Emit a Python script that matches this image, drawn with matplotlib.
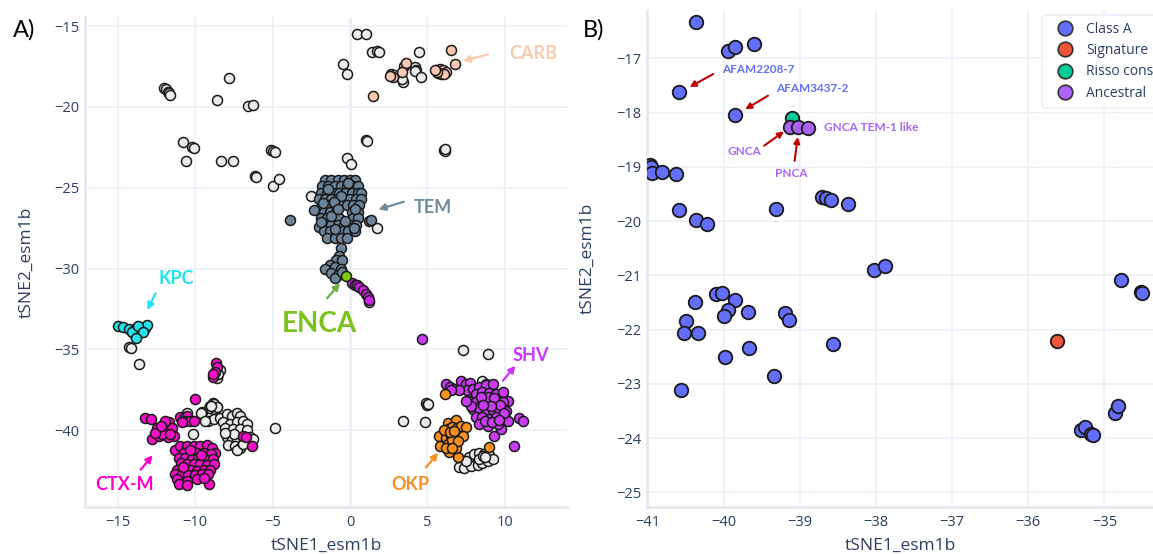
import numpy as np
import matplotlib
matplotlib.use("Agg")
import matplotlib.pyplot as plt
from matplotlib.lines import Line2D

# ---- panel A data (tSNE of esm1b embeddings) ----
other_xy = [
    (-12.04, -18.81), (-11.9, -18.92), (-11.78, -19.05), (-11.7, -19.12), (-11.61, -19.26),
    (-7.79, -18.24), (-8.61, -19.57), (-6.57, -19.94), (-6.29, -19.88),
    (-10.79, -22.19), (-10.21, -22.46), (-10.11, -22.54), (-10.62, -23.36), (-8.35, -23.34), (-7.58, -23.34),
    (-5.13, -22.66), (-4.96, -22.75), (-4.85, -22.77), (-6.14, -24.30), (-6.05, -24.34), (-5.0, -24.92), (-4.61, -24.49),
    (0.47, -15.51), (1.03, -15.47), (1.39, -16.62), (1.72, -16.56), (1.89, -16.58), (4.44, -16.62),
    (-0.43, -17.33), (-0.17, -17.94), (4.18, -17.53), (4.29, -17.73), (4.18, -17.77), (4.57, -18.18),
    (3.43, -18.44), (3.35, -18.3),
    (1.03, -22.06), (1.08, -22.12), (6.1, -22.67), (6.17, -22.72), (6.13, -22.6),
    (-0.22, -23.17), (0.04, -23.52), (-2.54, -25.52), (1.72, -27.48), (1.25, -32.06),
    (-14.29, -34.88), (-14.14, -34.92), (-13.6, -35.93),
    (-8.43, -36.29), (-8.61, -36.75), (-8.55, -36.55),
    (-9.03, -38.48), (-8.82, -38.33), (-8.61, -38.54), (-8.86, -38.69), (-9.14, -38.63),
    (-8.8, -38.35), (-8.6, -38.55), (-9.0, -38.5), (-9.55, -38.9), (-9.15, -39.4), (-8.8, -39.3),
    (-8.4, -39.25), (-7.95, -39.0), (-7.65, -39.15), (-7.3, -38.95), (-7.1, -39.1), (-8.2, -39.5),
    (-7.75, -39.6), (-7.3, -39.5), (-6.9, -39.4), (-6.65, -39.6), (-8.05, -39.85), (-7.55, -39.95),
    (-7.1, -39.9), (-6.65, -40.0), (-7.95, -40.45), (-7.65, -40.6), (-7.3, -40.55), (-6.9, -40.45),
    (-6.45, -40.45), (-7.85, -40.9), (-7.4, -41.0), (-7.1, -41.1), (-7.3, -41.25), (-6.65, -40.7),
    (-6.25, -40.55), (-7.5, -40.25), (-8.1, -40.2), (-6.9, -40.85),
    (-10.54, -38.96), (-10.15, -40.25), (-9.64, -38.96), (-9.36, -39.42), (-4.85, -39.85),
    (7.31, -35.04), (8.93, -35.31), (4.94, -38.33), (5.0, -38.42), (5.05, -38.38), (3.44, -39.42), (4.85, -39.52),
    (8.56, -36.96), (8.78, -37.13),
    (7.70, -41.67), (8.02, -41.5), (8.35, -41.4), (8.67, -41.5), (9.0, -41.54), (7.05, -42.29), (7.38, -42.33),
    (7.81, -42.23), (8.24, -42.13), (8.56, -42.02), (8.89, -41.92), (9.21, -41.81), (8.35, -41.75), (7.48, -41.92),
    (8.6, -41.6), (8.75, -41.65),
]

carb_xy = [
    (6.50, -16.48), (6.76, -17.37), (1.46, -19.35),
    (2.68, -17.94), (2.85, -18.04), (3.48, -17.49), (3.61, -17.29), (3.39, -17.83), (2.79, -18.14), (2.58, -18.10),
    (5.58, -17.69), (5.79, -17.63), (6.01, -17.73), (5.69, -17.89), (5.90, -17.94), (6.22, -17.83),
    (6.05, -17.98), (5.62, -17.83), (5.47, -17.73),
]

tem_xy = [
    (-1.6, -24.5), (-1.2, -24.5), (-0.8, -24.5), (-0.4, -24.5), (0.0, -24.5), (0.3, -24.5),
    (-1.8, -24.9), (-1.4, -24.9), (-1.0, -24.9), (-0.6, -24.9), (-0.2, -24.9), (0.2, -24.9), (0.5, -24.9),
    (-1.9, -25.3), (-1.5, -25.3), (-1.1, -25.3), (-0.7, -25.3), (-0.3, -25.3), (0.1, -25.3), (0.5, -25.3), (0.7, -25.3),
    (-2.0, -25.7), (-1.6, -25.7), (-1.2, -25.7), (-0.8, -25.7), (-0.4, -25.7), (0.0, -25.7), (0.4, -25.7), (0.7, -25.7),
    (-1.8, -26.1), (-1.4, -26.1), (-1.0, -26.1), (-0.6, -26.1), (-0.2, -26.1), (0.2, -26.1), (0.6, -26.1),
    (-2.3, -26.4), (-1.7, -26.5), (-1.3, -26.5), (-0.9, -26.5), (0.1, -26.5), (0.5, -26.5),
    (-1.9, -26.9), (-1.5, -26.9), (-1.1, -26.9), (-0.7, -26.9), (0.2, -26.9), (0.5, -26.9),
    (-2.0, -27.4), (-1.6, -27.3), (-1.2, -27.3), (-0.8, -27.3), (-0.4, -27.3), (0.0, -27.3), (0.4, -27.3),
    (-1.7, -27.7), (-1.3, -27.7), (-0.9, -27.7), (-0.5, -27.7), (-0.1, -27.7), (0.3, -27.7),
    (-1.5, -28.1), (-1.0, -28.1), (-0.6, -28.1), (-0.2, -28.1),
    (-1.45, -25.1), (-0.55, -25.5), (-1.05, -25.9), (0.35, -26.3), (-1.25, -26.75), (-0.35, -27.05),
    (-1.75, -25.95), (-0.15, -24.7), (-0.95, -27.55), (0.25, -27.5), (-1.85, -27.1), (-0.75, -26.3),
    (-0.6, -28.7), (-0.7, -29.2), (-0.9, -29.5), (-0.5, -29.5), (-1.3, -29.8), (-1.0, -29.9),
    (-0.6, -30.0), (-1.6, -30.0), (-1.2, -30.3), (-0.8, -30.4), (-1.0, -30.6), (-0.5, -30.2),
    (-3.87, -26.98), (1.25, -27.06), (1.35, -27.0),
]

enca_xy = [(-0.26, -30.46)]

chain_xy = [
    (0.11, -30.87), (0.32, -31.02), (0.45, -31.0), (0.60, -31.15), (0.86, -31.35),
    (1.03, -31.56), (1.18, -31.77), (1.25, -31.95),
]

kpc_xy = [
    (-15.0, -33.54), (-14.68, -33.60), (-14.29, -33.75), (-14.03, -33.87), (-13.81, -33.70),
    (-13.49, -33.81), (-13.27, -33.66), (-13.12, -33.50), (-13.64, -34.01), (-13.92, -34.11),
    (-14.07, -33.91), (-13.70, -33.54), (-13.38, -33.95), (-13.85, -34.28),
]

ctxm_xy = [
    (-8.65, -35.83), (-8.56, -36.08), (-8.71, -36.40), (-8.82, -36.71), (-8.86, -36.54),
    (-10.0, -38.06), (-13.22, -39.25), (-12.85, -39.31),
    (-12.79, -40.56), (-12.36, -40.35), (-12.47, -39.88), (-12.15, -40.0), (-11.93, -39.73),
    (-11.72, -39.52), (-11.83, -40.04), (-11.50, -39.88), (-11.35, -40.35), (-11.78, -40.42),
    (-12.15, -40.25), (-12.58, -40.15), (-11.61, -40.21), (-11.98, -39.46), (-12.24, -39.77),
    (-10.97, -39.17), (-10.71, -39.25), (-10.54, -39.10), (-10.64, -39.42), (-10.32, -39.42),
    (-10.11, -39.46), (-10.86, -39.52),
    (-11.3, -41.2), (-11.0, -41.0), (-10.5, -41.0), (-10.1, -41.0), (-9.7, -41.0), (-9.25, -40.9),
    (-8.9, -41.1), (-8.7, -41.4), (-10.75, -41.4), (-10.3, -41.4), (-9.9, -41.4), (-9.45, -41.4),
    (-9.0, -41.5), (-11.05, -41.7), (-10.65, -41.7), (-10.2, -41.75), (-9.8, -41.7), (-9.35, -41.8),
    (-8.85, -41.8), (-10.95, -42.0), (-10.55, -42.1), (-10.1, -42.1), (-9.7, -42.1), (-9.25, -42.15),
    (-8.8, -42.1), (-11.2, -42.45), (-10.75, -42.45), (-10.3, -42.45), (-9.9, -42.5), (-9.45, -42.45),
    (-9.05, -42.45), (-11.3, -42.7), (-10.85, -42.7), (-10.45, -42.8), (-10.0, -42.75), (-9.55, -42.7),
    (-9.15, -42.7), (-11.2, -43.0), (-10.55, -43.15), (-9.9, -43.0), (-11.05, -43.3), (-10.5, -43.4),
    (-9.1, -43.35), (-10.35, -41.2), (-9.6, -41.55), (-10.8, -42.25), (-9.45, -42.95),
    (-6.9, -40.35), (-6.7, -40.45), (-6.35, -41.0),
]

shv_xy = [
    (4.63, -34.35),
    (6.19, -37.13), (6.45, -37.33), (6.73, -37.44), (7.16, -36.98), (7.48, -37.13), (7.74, -37.08),
    (7.59, -37.54), (7.05, -37.54), (6.51, -37.54),
    (7.92, -37.44), (8.35, -37.33), (8.78, -37.23), (9.21, -37.13), (8.13, -37.75), (8.56, -37.65),
    (9.0, -37.71), (9.43, -37.79), (9.86, -37.65), (10.18, -38.17), (7.70, -38.17), (8.13, -38.27),
    (8.56, -38.17), (9.0, -38.27), (9.43, -38.17), (9.86, -38.27), (7.92, -38.69), (8.35, -38.63),
    (8.78, -38.79), (9.21, -38.75), (9.64, -38.69), (10.08, -38.79), (8.13, -39.21), (8.56, -39.17),
    (9.0, -39.31), (9.43, -39.21), (9.86, -39.21), (8.35, -39.63), (8.89, -39.73), (9.32, -40.35),
    (9.75, -39.94), (9.54, -39.63), (10.18, -39.42), (7.81, -38.48), (7.48, -38.17),
    (8.9, -37.95), (9.3, -38.0), (8.45, -37.95), (9.7, -38.45), (9.1, -38.5), (8.6, -38.45),
    (9.95, -38.95), (8.7, -39.45), (9.2, -39.5), (9.6, -39.35),
    (10.90, -39.27), (11.16, -39.42), (10.57, -40.98),
]

okp_xy = [
    (6.14, -37.75),
    (6.30, -39.56), (6.84, -39.38), (6.36, -39.94), (6.62, -39.79), (6.94, -39.88), (7.16, -39.73),
    (7.48, -39.79), (5.76, -40.35), (5.80, -40.98), (6.19, -40.46), (6.51, -40.35), (6.84, -40.35),
    (7.27, -40.35), (6.30, -40.83), (6.73, -40.83), (6.40, -41.33), (7.01, -41.67), (6.84, -41.13),
    (9.0, -41.04), (6.08, -40.0), (6.51, -40.15),
    (6.6, -40.6), (6.95, -40.65), (6.45, -40.1), (6.75, -40.05), (6.2, -41.1), (6.6, -41.1),
]

# ---- panel B data (zoom on the ancestral region) ----
classA_xy = [
    (-40.37, -16.34), (-39.95, -16.86), (-39.86, -16.79), (-39.61, -16.74), (-40.59, -17.63), (-39.85, -18.04),
    (-40.97, -18.97), (-40.96, -19.0), (-40.94, -19.12), (-40.81, -19.10), (-40.63, -19.13),
    (-40.59, -19.79), (-40.37, -19.98), (-40.22, -20.05), (-39.31, -19.78),
    (-38.71, -19.55), (-38.66, -19.58), (-38.59, -19.61), (-38.37, -19.68),
    (-38.03, -20.91), (-37.88, -20.82),
    (-34.78, -21.09), (-34.52, -21.30), (-34.50, -21.32),
    (-40.10, -21.34), (-40.03, -21.32), (-40.38, -21.49), (-39.86, -21.46), (-39.95, -21.63), (-40.00, -21.75),
    (-39.68, -21.67), (-40.50, -21.85), (-40.52, -22.06), (-40.34, -22.06), (-39.20, -21.69), (-39.14, -21.83),
    (-39.99, -22.50), (-39.67, -22.34), (-38.57, -22.26), (-39.34, -22.86), (-40.56, -23.12),
    (-34.86, -23.53), (-34.82, -23.41), (-35.31, -23.85), (-35.25, -23.80), (-35.17, -23.92), (-35.15, -23.94),
]
signature_xy = [(-35.62, -22.21)]
risso_xy = [(-39.11, -18.10)]
ancestral_xy = [(-39.13, -18.26), (-39.03, -18.26), (-38.90, -18.29)]

legend_labels = ["Class A", "Signature", "Risso cons", "Ancestral"]
legend_colors = ["#636EFA", "#EF553B", "#00CC96", "#AB63FA"]

GRID = "#EBF0F8"
FONT = "#2a3f5f"
plt.rcParams['font.family'] = ['Open Sans', 'DejaVu Sans']

fig = plt.figure(figsize=(11.53, 5.54), dpi=100)
W, H = 1153.0, 554.0
axA = fig.add_axes([85 / W, (H - 507) / H, (567 - 85) / W, (507 - 17) / H])
axB = fig.add_axes([647 / W, (H - 507) / H, (1163 - 647) / W, (507 - 10) / H])


def style(ax, xticks, yticks):
    ax.set_facecolor("white")
    ax.set_xticks(xticks)
    ax.set_yticks(yticks)
    ax.grid(True, color=GRID, lw=1.2, zorder=0)
    ax.set_axisbelow(True)
    for s in ["top", "right"]:
        ax.spines[s].set_visible(False)
    for s in ["left", "bottom"]:
        ax.spines[s].set_color("#E3E8F0")
        ax.spines[s].set_linewidth(2)
    ax.tick_params(length=0, labelsize=10.5, labelcolor=FONT)
    ax.tick_params(axis="x", pad=6)
    ax.tick_params(axis="y", pad=4)


def pts(ax, xy, color, s, lw, z=3):
    a = np.array(xy)
    ax.scatter(a[:, 0], a[:, 1], s=s, c=color, edgecolors="#1a1a1a", linewidths=lw, zorder=z)


# panel A
style(axA, [-15, -10, -5, 0, 5, 10], [-15, -20, -25, -30, -35, -40])
axA.axvline(0, color=GRID, lw=2.2, zorder=0)
axA.set_xlim(-17.12, 14.02)
axA.set_ylim(-44.75, -14.44)
sA, lwA = 52, 1.1
pts(axA, other_xy, "#ececec", sA, lwA)
pts(axA, carb_xy, "#fbc9b1", sA, lwA, 4)
pts(axA, tem_xy, "#6b8499", sA, lwA, 4)
pts(axA, chain_xy, "#cf22e6", sA, lwA, 4)
pts(axA, enca_xy, "#80c800", sA, lwA, 5)
pts(axA, kpc_xy, "#22e3ec", sA, lwA, 4)
pts(axA, ctxm_xy, "#f20fc6", sA, lwA, 4)
pts(axA, shv_xy, "#c93bf2", sA, lwA, 4)
pts(axA, okp_xy, "#f7901e", sA, lwA, 4)

labelsA = [
    ("CARB", 11.84, -16.69, "#F8CBAD", 13, (8.92, -16.75), (7.30, -17.16)),
    ("TEM", 5.33, -26.22, "#6f8a9c", 13, (3.47, -25.87), (1.84, -26.34)),
    ("KPC", -11.2, -30.6, "#1fe3ee", 13, (-12.56, -31.53), (-13.09, -32.56)),
    ("ENCA", -1.99, -33.43, "#7ac31a", 20, (-1.48, -31.84), (-0.65, -30.91)),
    ("SHV", 11.67, -35.39, "#cc33ff", 13, (9.88, -36.94), (10.69, -36.01)),
    ("CTX-M", -14.59, -43.35, "#ff00cc", 13, (-13.52, -42.44), (-12.75, -41.55)),
    ("OKP", 3.90, -43.35, "#f7901e", 13, (4.90, -42.31), (5.69, -41.40)),
]
for name, tx, ty, col, fs, tail, head in labelsA:
    axA.text(tx, ty, name, color=col, fontsize=fs, fontweight="bold", family="Lato",
             ha="center", va="center", zorder=6)
    acol = "#70AD47" if name == "ENCA" else col
    axA.annotate("", xy=head, xytext=tail, zorder=6,
                 arrowprops=dict(arrowstyle="-|>", color=acol, lw=1.6, mutation_scale=10,
                                 shrinkA=0, shrinkB=0))

axA.set_xlabel("tSNE1_esm1b", fontsize=12.5, color=FONT)
axA.set_ylabel("tSNE2_esm1b", fontsize=12.5, color=FONT)
axA.xaxis.set_label_coords(0.5, -0.063)
axA.yaxis.set_label_coords(-0.104, 0.5)

# panel B
style(axB, [-41, -40, -39, -38, -37, -36, -35], [-17, -18, -19, -20, -21, -22, -23, -24, -25])
axB.set_xlim(-41.01, -34.23)
axB.set_ylim(-25.27, -16.11)
sB, lwB = 95, 1.3
pts(axB, classA_xy, legend_colors[0], sB, lwB)
pts(axB, signature_xy, legend_colors[1], sB, lwB)
pts(axB, risso_xy, legend_colors[2], sB, lwB)
pts(axB, ancestral_xy, legend_colors[3], sB, lwB)

labelsB = [
    ("AFAM2208-7", -40.02, -17.2, "#636EFA", "left", (-40.14, -17.29), (-40.45, -17.53)),
    ("AFAM3437-2", -39.31, -17.55, "#636EFA", "left", (-39.42, -17.69), (-39.72, -17.94)),
    ("GNCA TEM-1 like", -38.69, -18.28, "#AB63FA", "left", None, None),
    ("GNCA", -39.73, -18.72, "#AB63FA", "center", (-39.47, -18.61), (-39.21, -18.35)),
    ("PNCA", -39.11, -19.12, "#AB63FA", "center", (-39.07, -18.89), (-39.03, -18.45)),
]
for name, tx, ty, col, ha, tail, head in labelsB:
    axB.text(tx, ty, name, color=col, fontsize=8.5, fontweight="bold", family="Lato",
             ha=ha, va="center", zorder=6)
    if tail is not None:
        axB.annotate("", xy=head, xytext=tail, zorder=6,
                     arrowprops=dict(arrowstyle="-|>", color="#C00000", lw=1.5, mutation_scale=9,
                                     shrinkA=0, shrinkB=0))

axB.set_xlabel("tSNE1_esm1b", fontsize=12.5, color=FONT)
axB.set_ylabel("tSNE2_esm1b", fontsize=12.5, color=FONT)
axB.xaxis.set_label_coords((900 - 647) / (1163 - 647), -0.063)
axB.yaxis.set_label_coords(-0.10, 0.5)

handles = [Line2D([], [], ls="", marker="o", markersize=10.5, markerfacecolor=c,
                  markeredgecolor="#333333", markeredgewidth=1.2) for c in legend_colors]
leg = fig.legend(handles, legend_labels, loc="upper left", bbox_to_anchor=(1042 / W, 1 - 15 / H),
                 frameon=True, fancybox=True, fontsize=10, labelspacing=0.45, handletextpad=0.36,
                 borderpad=0.5, handlelength=2.3, borderaxespad=0)
leg.get_frame().set_edgecolor("#E5ECF6")
leg.get_frame().set_linewidth(1.2)
for t in leg.get_texts():
    t.set_color(FONT)

fig.text(24 / W, 1 - 30 / H, "A)", fontsize=17, ha="center", va="center", family="Lato")
fig.text(594 / W, 1 - 30 / H, "B)", fontsize=17, ha="center", va="center", family="Lato")

fig.savefig("out.png", dpi=100)
